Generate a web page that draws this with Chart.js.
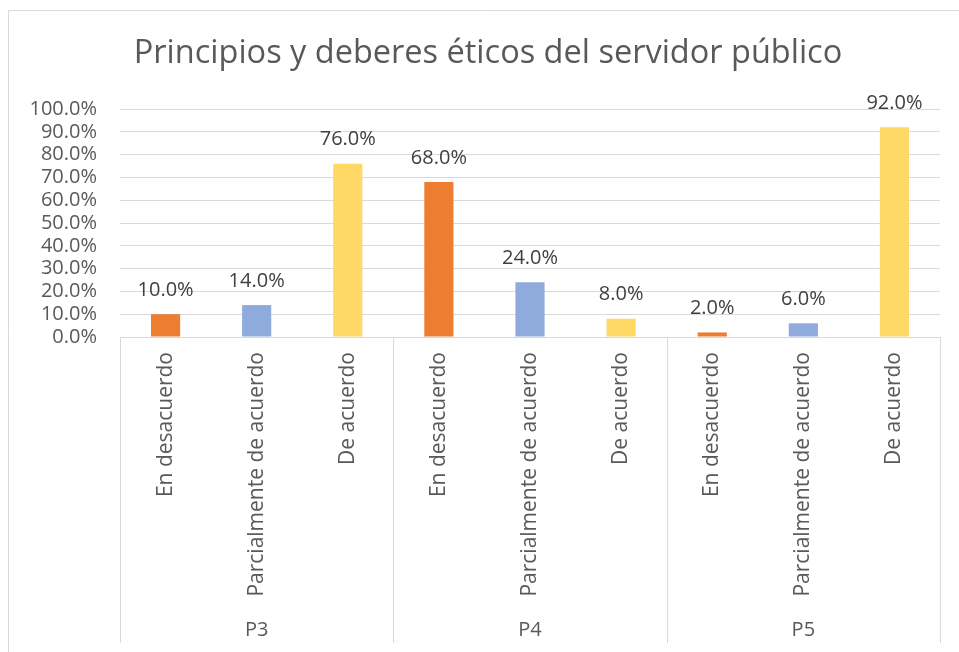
<!DOCTYPE html>
<html>
<head>
<meta charset="utf-8">
<script src="https://cdn.jsdelivr.net/npm/chart.js@4.4.1/dist/chart.umd.min.js"></script>
<style>
  html, body { margin: 0; padding: 0; background: #ffffff; }
  #wrap { position: relative; width: 959px; height: 652px; }
  canvas { display: block; }
</style>
</head>
<body>
<div id="wrap"><canvas id="c" width="959" height="652"></canvas></div>
<script>
const chartTitle = 'Principios y deberes éticos del servidor público';
const categories = ['En desacuerdo', 'Parcialmente de acuerdo', 'De acuerdo',
                    'En desacuerdo', 'Parcialmente de acuerdo', 'De acuerdo',
                    'En desacuerdo', 'Parcialmente de acuerdo', 'De acuerdo'];
const groups = ['P3', 'P4', 'P5'];
const groupSize = 3;
const values = [10, 14, 76, 68, 24, 8, 2, 6, 92];
const barColors = ['#ED7D31', '#8FAADC', '#FFD966',
                   '#ED7D31', '#8FAADC', '#FFD966',
                   '#ED7D31', '#8FAADC', '#FFD966'];
const yTicks = [0, 10, 20, 30, 40, 50, 60, 70, 80, 90, 100];

const FONT = '"Open Sans"';
const TEXT = '#595959';
const LINE = '#d9d9d9';

const decorPlugin = {
  id: 'decor',
  beforeDraw(chart) {
    const ctx = chart.ctx;
    ctx.save();
    ctx.strokeStyle = LINE;
    ctx.lineWidth = 1;
    ctx.beginPath();
    ctx.moveTo(8.5, 652);
    ctx.lineTo(8.5, 10.5);
    ctx.lineTo(959, 10.5);
    ctx.stroke();
    ctx.fillStyle = TEXT;
    ctx.font = '32.5px ' + FONT;
    ctx.textAlign = 'center';
    ctx.textBaseline = 'middle';
    ctx.fillText(chartTitle, 488, 54);
    ctx.restore();
  },
  afterDraw(chart) {
    const ctx = chart.ctx;
    const x = chart.scales.x;
    const area = chart.chartArea;
    const step = x.getPixelForValue(1) - x.getPixelForValue(0);
    ctx.save();
    ctx.strokeStyle = LINE;
    ctx.lineWidth = 1;
    for (let g = 0; g <= groups.length; g++) {
      const px = Math.round(x.getPixelForValue(g * groupSize) - step / 2) + 0.5;
      ctx.beginPath();
      ctx.moveTo(px, area.bottom);
      ctx.lineTo(px, 643);
      ctx.stroke();
    }
    ctx.fillStyle = TEXT;
    ctx.font = '20px ' + FONT;
    ctx.textAlign = 'center';
    ctx.textBaseline = 'middle';
    groups.forEach((g, i) => {
      const cx = (x.getPixelForValue(i * groupSize) + x.getPixelForValue(i * groupSize + groupSize - 1)) / 2;
      ctx.fillText(g, cx, 630);
    });
    ctx.fillStyle = '#404040';
    const meta = chart.getDatasetMeta(0);
    meta.data.forEach((bar, i) => {
      ctx.fillText(values[i].toFixed(1) + '%', bar.x, bar.y - 24);
    });
    ctx.restore();
  }
};

new Chart(document.getElementById('c'), {
  type: 'bar',
  data: {
    labels: categories,
    datasets: [{
      data: values,
      backgroundColor: barColors,
      borderWidth: 0,
      barPercentage: 0.32,
      categoryPercentage: 1.0
    }]
  },
  options: {
    responsive: false,
    animation: false,
    devicePixelRatio: 1,
    layout: { padding: { top: 109, left: 0, right: 19, bottom: 7 } },
    plugins: {
      legend: { display: false },
      title: { display: false },
      tooltip: { enabled: false }
    },
    scales: {
      x: {
        grid: { display: false, drawTicks: false },
        border: { display: true, color: LINE, width: 1 },
        ticks: {
          autoSkip: false,
          minRotation: 90,
          maxRotation: 90,
          padding: 15,
          color: TEXT,
          font: { family: FONT, size: 21 }
        },
        afterFit(scale) { scale.height = 308; }
      },
      y: {
        min: 0,
        max: 100,
        afterBuildTicks(scale) { scale.ticks = yTicks.map(v => ({ value: v })); },
        grid: { color: LINE, lineWidth: 1, drawTicks: false },
        border: { display: false },
        ticks: {
          autoSkip: false,
          padding: 23,
          color: TEXT,
          font: { family: FONT, size: 20 },
          callback: (v) => Number(v).toFixed(1) + '%'
        },
        afterFit(scale) { scale.width = 120; }
      }
    }
  },
  plugins: [decorPlugin]
});
</script>
</body>
</html>
